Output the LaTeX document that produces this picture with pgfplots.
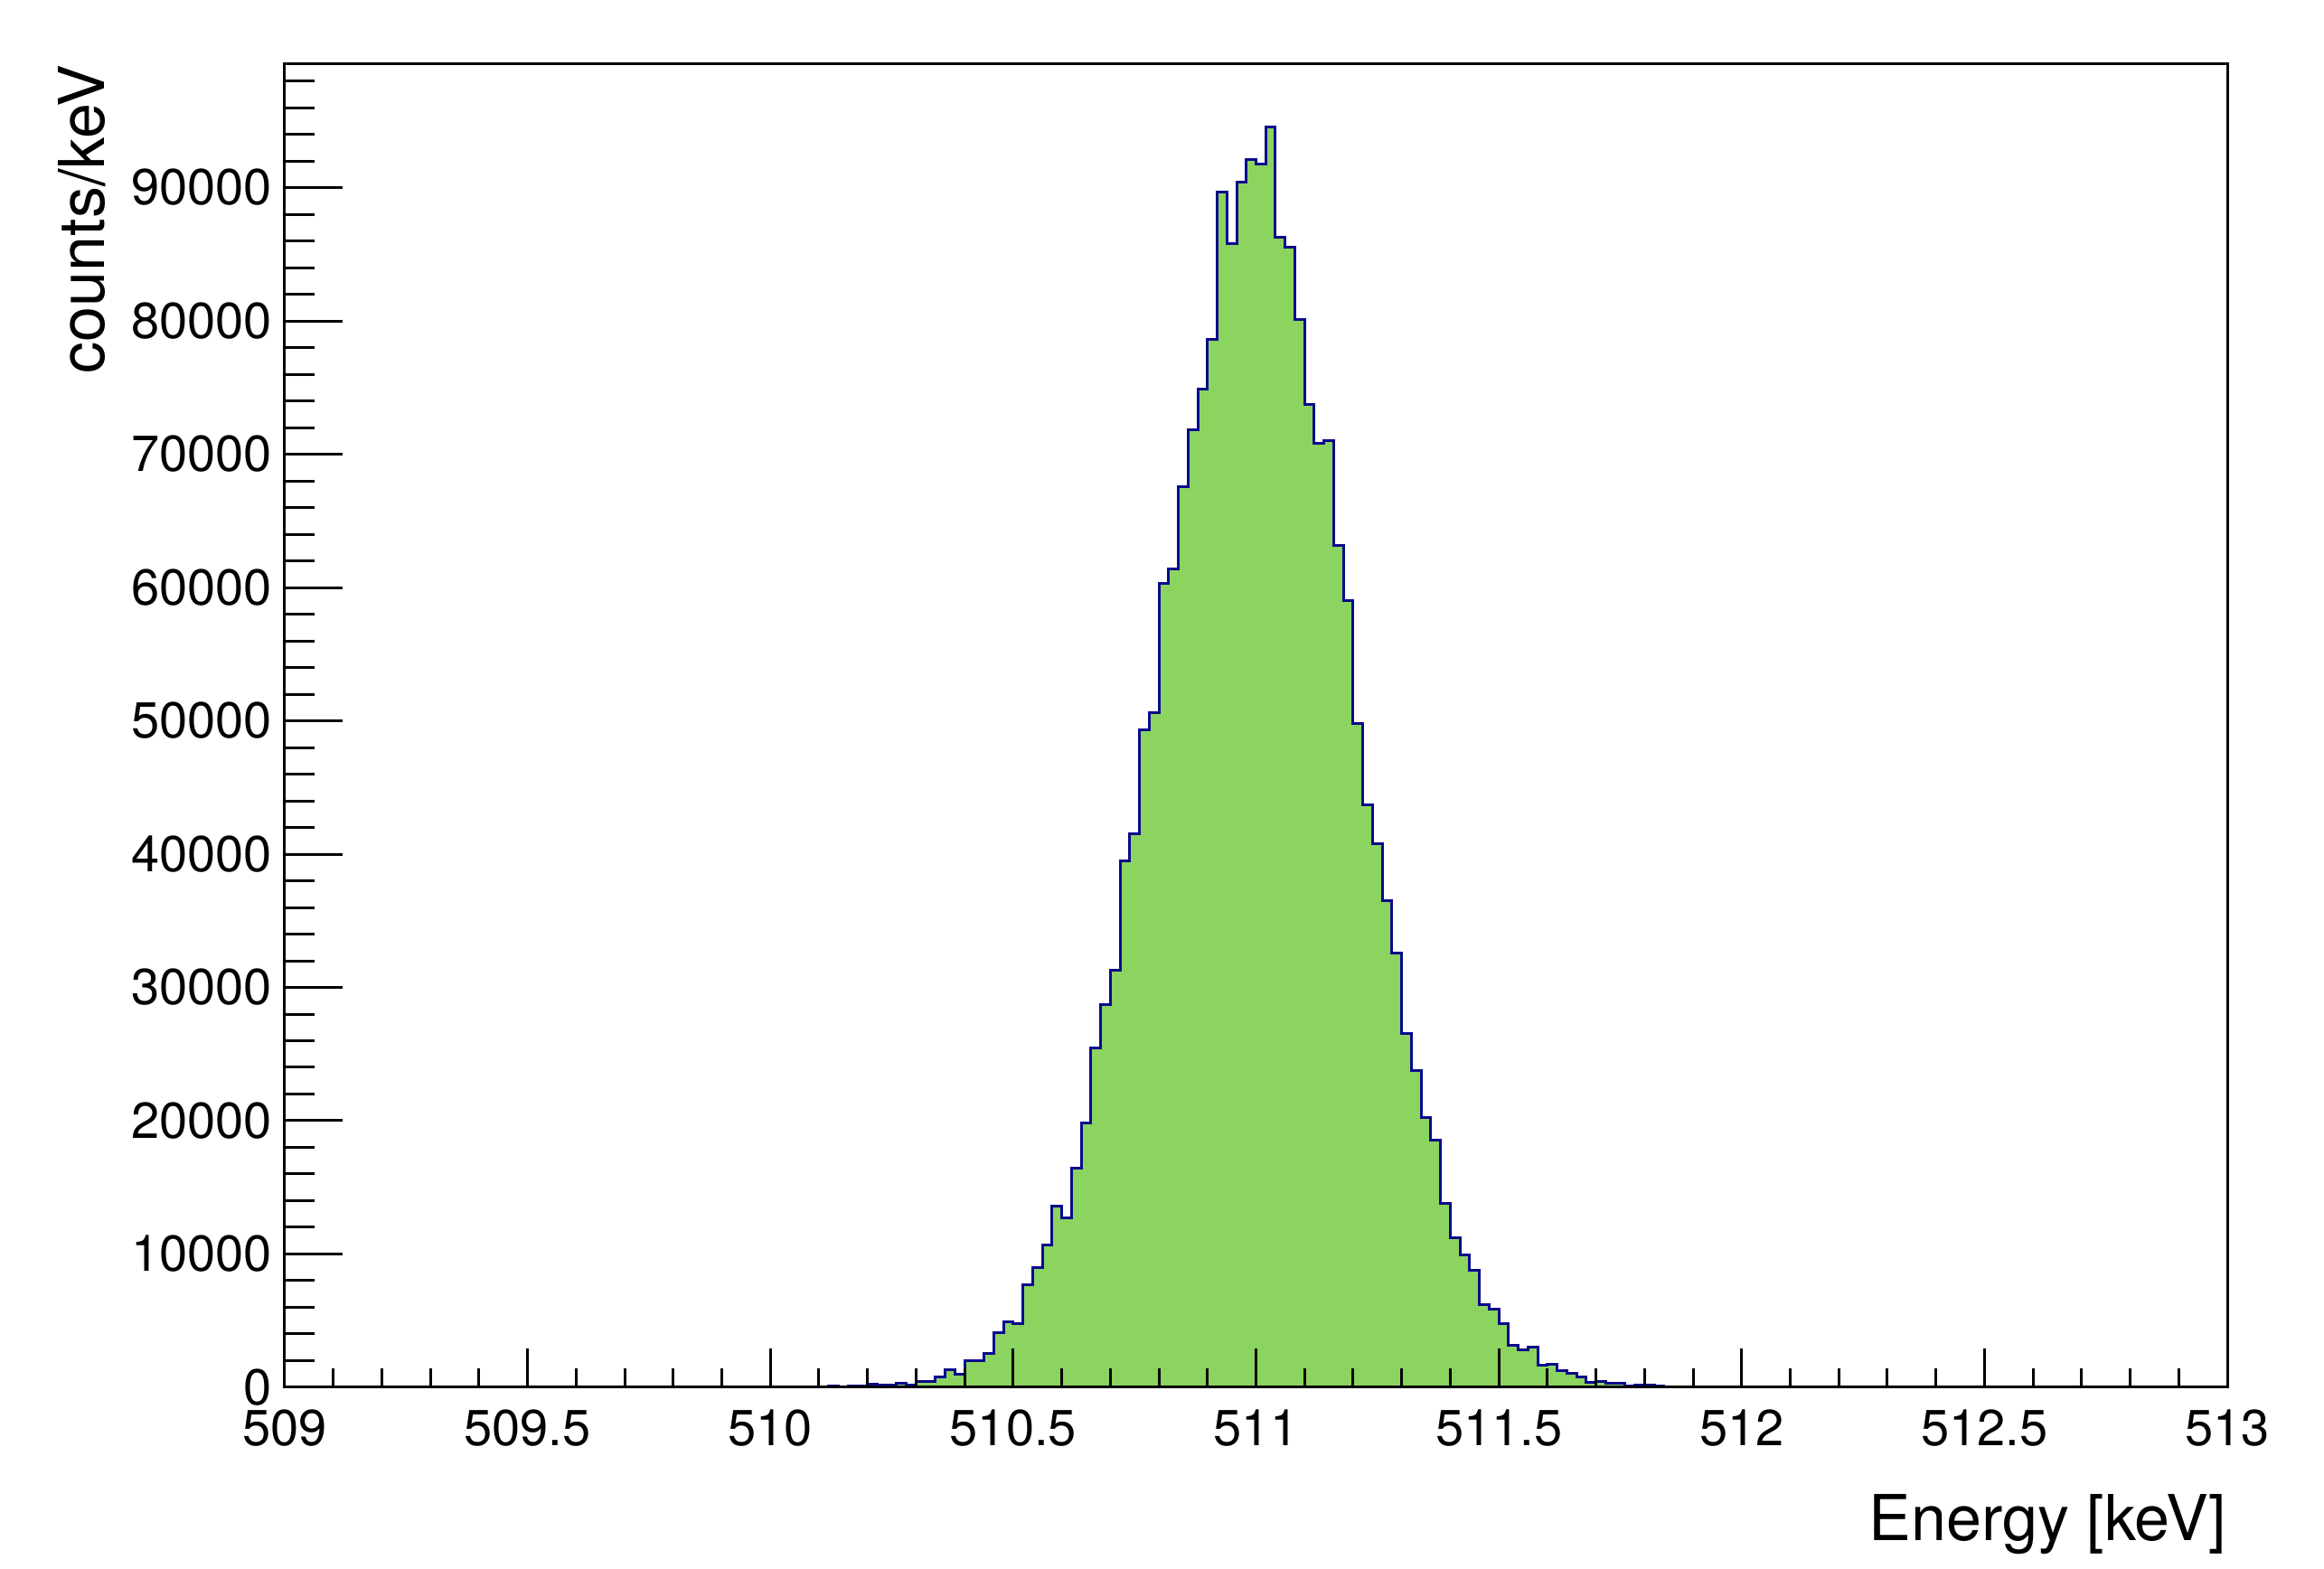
\documentclass[border=0pt]{standalone}
\usepackage{fontspec}
\setmainfont{TeX Gyre Heros}
\usepackage{pgfplots}
\usepackage{pgfplotstable}
\pgfplotsset{compat=1.18}
\definecolor{histfill}{HTML}{8AD45F}
\definecolor{histline}{HTML}{0A0A8C}

% bin left edge (keV), counts/keV ; bin width 0.02 keV
\pgfplotstableread{
E N
509.76 50
509.78 0
510.12 113
510.14 50
510.16 100
510.18 100
510.20 230
510.22 140
510.24 140
510.26 300
510.28 180
510.30 450
510.32 450
510.34 790
510.36 1330
510.38 970
510.40 1990
510.42 1990
510.44 2510
510.46 4070
510.48 4900
510.50 4810
510.52 7700
510.54 9010
510.56 10690
510.58 13560
510.60 12730
510.62 16410
510.64 19850
510.66 25440
510.68 28730
510.70 31300
510.72 39460
510.74 41500
510.76 49300
510.78 50600
510.80 60340
510.82 61390
510.84 67590
510.86 71840
510.88 74870
510.90 78600
510.92 89680
510.94 85800
510.96 90440
510.98 92100
511.00 91740
511.02 94530
511.04 86290
511.06 85530
511.08 80080
511.10 73720
511.12 70840
511.14 70990
511.16 63180
511.18 59030
511.20 49780
511.22 43720
511.24 40760
511.26 36540
511.28 32610
511.30 26560
511.32 23740
511.34 20250
511.36 18570
511.38 13800
511.40 11230
511.42 9950
511.44 8800
511.46 6200
511.48 5830
511.50 4770
511.52 3160
511.54 2830
511.56 3010
511.58 1650
511.60 1720
511.62 1240
511.64 1020
511.66 750
511.68 380
511.70 430
511.72 270
511.74 270
511.76 110
511.78 200
511.80 200
511.82 110
511.84 0
511.86 50
511.88 0
}\spectrum

\begin{document}
\begin{tikzpicture}
\pgfplotsset{
  frame/.style={
    scale only axis, width=429.8pt, height=292.8pt,
    xmin=509, xmax=513, ymin=0, ymax=99260,
    scaled ticks=false,
    axis line style={line width=0.6pt},
    every tick/.style={black, line width=0.6pt},
    tick label style={font=\fontsize{11.2}{13}\selectfont},
    label style={font=\fontsize{14}{16}\selectfont},
  }
}
\begin{axis}[
  frame,
  name=main,
  axis on top,
  tick align=inside,
  xtick pos=lower,
  xtick={509,509.5,510,510.5,511,511.5,512,512.5,513},
  xticklabels={509,509.5,510,510.5,511,511.5,512,512.5,513},
  minor xtick={509.1,509.2,509.3,509.4,509.6,509.7,509.8,509.9,510.1,510.2,510.3,510.4,510.6,510.7,510.8,510.9,511.1,511.2,511.3,511.4,511.6,511.7,511.8,511.9,512.1,512.2,512.3,512.4,512.6,512.7,512.8,512.9},
  major tick length=8.5pt, minor tick length=4.2pt,
  xticklabel style={yshift=-1.5pt},
  ytick=\empty,
  xlabel={Energy [keV]},
  xlabel style={at={(axis description cs:1,-0.116)}, anchor=base east, inner sep=0pt},
]
\addplot[const plot, fill=histfill, draw=histline, line width=0.6pt] table[x=E, y=N] {\spectrum} \closedcycle;
\end{axis}
\begin{axis}[
  frame,
  hide x axis,
  axis y line*=left,
  tick align=inside,
  ytick={0,10000,20000,30000,40000,50000,60000,70000,80000,90000},
  yticklabels={0,10000,20000,30000,40000,50000,60000,70000,80000,90000},
  minor ytick={2000,4000,...,98000},
  major tick length=12.8pt, minor tick length=6.6pt,
  yticklabel style={xshift=0.7pt},
  ylabel={counts/keV},
  ylabel style={at={(axis description cs:-0.0917,1)}, anchor=south east, inner sep=0pt},
]
\end{axis}
% page margins around the frame, as in the reference
\path ([shift={(-63pt,-40.2pt)}]main.south west) ([shift={(21.4pt,14.2pt)}]main.north east);
\end{tikzpicture}
\end{document}
